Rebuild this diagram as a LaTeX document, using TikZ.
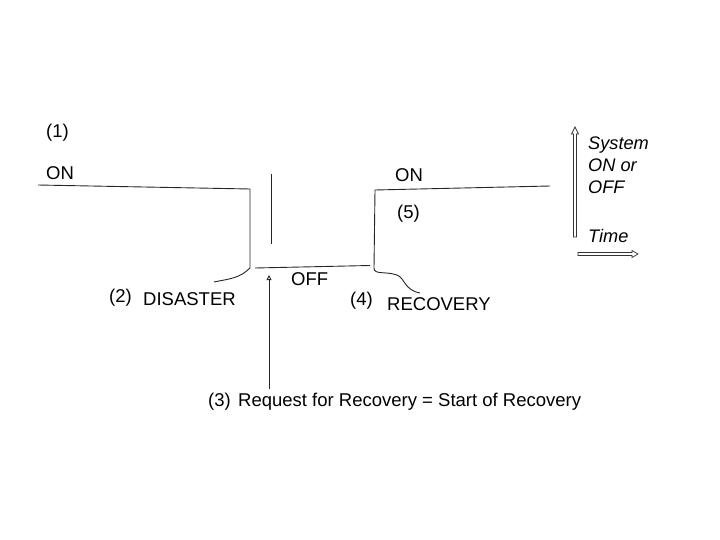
\documentclass[tikz,border=0pt]{standalone}
\usepackage{fontspec}
\setmainfont{Liberation Sans}
\usetikzlibrary{arrows.meta}
\begin{document}
\begin{tikzpicture}[x=1pt,y=-1pt,
  lbl/.style={anchor=west,inner sep=0pt,font=\fontsize{18.5}{21}\selectfont},
  ilbl/.style={lbl,font=\fontsize{18.2}{22}\selectfont\itshape,align=left},
  wire/.style={line width=0.9pt,black!85},
  hollow/.style={draw=black!80,line width=0.7pt,fill=white,line join=miter}]
\useasboundingbox (0,0) rectangle (720,540);
% coordinates
\coordinate (a0) at (38,185);
\coordinate (a1) at (250,189);
\coordinate (a2) at (250,268);
\coordinate (d1) at (214,282);
\coordinate (s0) at (271.5,174);
\coordinate (s1) at (271.5,244);
\coordinate (o0) at (255,268);
\coordinate (o1) at (370,265.5);
\coordinate (r0) at (374,268);
\coordinate (r1) at (375,190);
\coordinate (r2) at (550,186);
\coordinate (q0) at (269,389);
\coordinate (q1) at (269,275);
% lines
\draw[wire] (a0) -- (a1) -- (a2);
\draw[wire] (a2) to[out=-135,in=12] (d1);
\draw[wire] (s0) -- (s1);
\draw[wire] (o0) -- (o1);
\draw[wire] (r0) -- (r1) -- (r2);
\draw[wire] (r0) .. controls (374,275) and (385,271) .. (397,275) .. controls (405,278) and (404,290) .. (420,293);
\draw[wire,-{Triangle[open,length=5pt,width=5pt]}] (q0) -- (q1);
% hollow axis arrows
\draw[hollow] (573.5,237) -- (573.5,134) -- (571.5,134) -- (575,127) -- (578.5,134) -- (576.5,134) -- (576.5,237) -- cycle;
\draw[hollow] (578,252.5) -- (632,252.5) -- (632,250.5) -- (638,254) -- (632,257.5) -- (632,255.5) -- (578,255.5) -- cycle;
% labels
\node[lbl] (t1) at (46,133) {(1)};
\node[lbl] (on1) at (46,173) {ON};
\node[lbl] (on2) at (395,175) {ON};
\node[lbl] (t5) at (397,214) {(5)};
\node[lbl] (off) at (291,279) {OFF};
\node[lbl] (t2) at (109,298) {(2)};
\node[lbl] (dis) at (143,299) {DISASTER};
\node[lbl] (t4) at (350,301) {(4)};
\node[lbl] (rec) at (387,304) {RECOVERY};
\node[lbl] (t3) at (208,402) {(3)};
\node[lbl] (req) at (238,402) {Request for Recovery = Start of Recovery};
\node[ilbl] (sys) at (588,165) {System\\ON or\\OFF};
\node[ilbl] (time) at (588,236) {Time};
\end{tikzpicture}
\end{document}
